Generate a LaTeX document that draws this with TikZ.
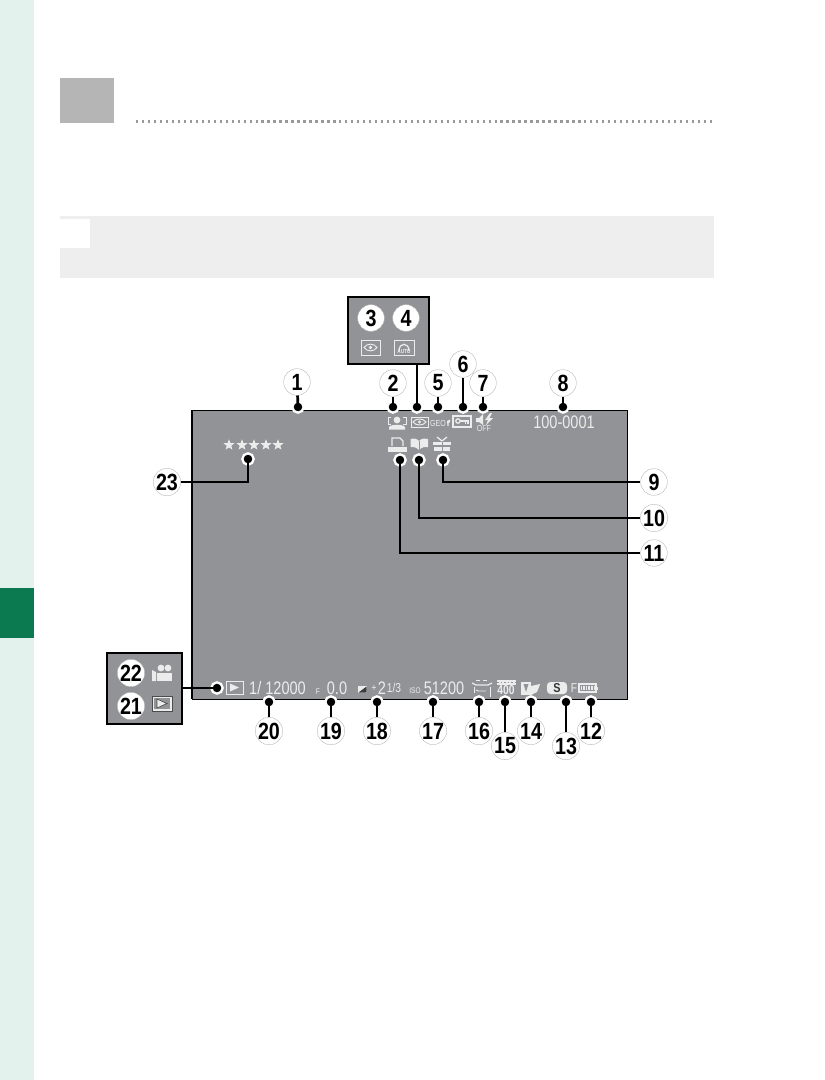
\documentclass[tikz,border=0pt]{standalone}
\usepackage{fontspec}
\newfontfamily\numfont[FakeStretch=0.84,UprightFont=* Bold]{Liberation Sans}
\newfontfamily\scrfont[FakeStretch=0.8]{Liberation Sans}
\usetikzlibrary{positioning,shapes.geometric}
\definecolor{sidebar}{HTML}{E3F2ED}
\definecolor{tabgreen}{HTML}{0B7A50}
\definecolor{headgray}{HTML}{B5B5B5}
\definecolor{notegray}{HTML}{EEEEEE}
\definecolor{lcdgray}{HTML}{929396}
\definecolor{lcdtext}{HTML}{ECECEC}
\tikzset{
  numc/.style={circle,draw=gray!60,line width=.3pt,fill=white,minimum size=.8cm,inner sep=0pt,font=\numfont\fontsize{20}{20}\selectfont},
  tip/.style={circle,draw=white,line width=2pt,fill=black,minimum size=.34cm,inner sep=0pt},
  lead/.style={line width=2.3pt,black},
  inset/.style={draw=black,line width=1.6pt,fill=lcdgray,inner sep=0pt},
  scr/.style={text=lcdtext,inner sep=0pt,font=\scrfont\fontsize{15.5}{15.5}\selectfont},
  scrs/.style={text=lcdtext,inner sep=0pt,font=\scrfont\fontsize{7}{7}\selectfont},
  ico/.style={draw=lcdtext,line width=.8pt},
  starn/.style={star,star points=5,star point ratio=2.3,fill=lcdtext,draw=none,minimum size=.34cm,inner sep=0pt}
}
\begin{document}
\begin{tikzpicture}[x=.03cm,y=-.03cm]
    \useasboundingbox (0,0) rectangle (825,1080);
    % page furniture
    \fill[sidebar] (0,0) rectangle (34,1080);
    \fill[tabgreen] (0,588) rectangle (34,638);
    \fill[headgray] (60,78) rectangle (114,123);
    \draw[black!40,line width=2pt,dash pattern=on 2pt off 3.1pt] (136,121.5) -- (715,121.5);
    \fill[notegray] (60,216) rectangle (714,278);
    \fill[white] (60,219) rectangle (90,248);
    % screen
    \filldraw[fill=lcdgray,draw=black,line width=.7pt] (192,410) rectangle (627,699);
    \draw[black,line width=1.5pt] (192,410) -- (192,699);
    % insets
    \node[inset,minimum width=2.43cm,minimum height=2.01cm] (box34) at (388.5,330.5) {};
    \node[inset,minimum width=2.25cm,minimum height=2.13cm] (box2122) at (144.5,688.5) {};
    % numbers
    \node[numc] (n1) at (297,382) {1};
    \node[numc] (n2) at (393,383) {2};
    \node[numc] (n3) at (371,318) {3};
    \node[numc] (n4) at (406,318) {4};
    \node[numc] (n5) at (438,383) {5};
    \node[numc] (n6) at (463,364) {6};
    \node[numc] (n7) at (483,383) {7};
    \node[numc] (n8) at (563,383) {8};
    \node[numc] (n9) at (654,482) {9};
    \node[numc] (n10) at (654,518) {10};
    \node[numc] (n11) at (654,553) {11};
    \node[numc] (n12) at (591,731) {12};
    \node[numc] (n13) at (566,746) {13};
    \node[numc] (n14) at (531,731) {14};
    \node[numc] (n15) at (505,746) {15};
    \node[numc] (n16) at (479,731) {16};
    \node[numc] (n17) at (433,731) {17};
    \node[numc] (n18) at (377,731) {18};
    \node[numc] (n19) at (331,731) {19};
    \node[numc] (n20) at (269,731) {20};
    \node[numc] (n21) at (131,706) {21};
    \node[numc] (n22) at (131,673) {22};
    \node[numc] (n23) at (167,482) {23};
    % tips
    \node[tip] (d1) at (298,407) {};
    \node[tip] (d2) at (393,407) {};
    \node[tip] (d34) at (417,407) {};
    \node[tip] (d5) at (438,407) {};
    \node[tip] (d6) at (463,407) {};
    \node[tip] (d7) at (483,407) {};
    \node[tip] (d8) at (563,407) {};
    \node[tip] (d9) at (443,460) {};
    \node[tip] (d10) at (419,460) {};
    \node[tip] (d11) at (400,460) {};
    \node[tip] (d12) at (591,702) {};
    \node[tip] (d13) at (566,702) {};
    \node[tip] (d14) at (531,702) {};
    \node[tip] (d15) at (505,702) {};
    \node[tip] (d16) at (479,702) {};
    \node[tip] (d17) at (433,702) {};
    \node[tip] (d18) at (377,702) {};
    \node[tip] (d19) at (331,702) {};
    \node[tip] (d20) at (269,702) {};
    \node[tip] (d2122) at (217,688) {};
    \node[tip] (d23) at (248,459) {};
    % leads
    \draw[lead] (n1) -- (d1.center);
    \draw[lead] (n2) -- (d2.center);
    \draw[lead] (d34.center |- box34.south) -- (d34.center);
    \draw[lead] (n5) -- (d5.center);
    \draw[lead] (n6) -- (d6.center);
    \draw[lead] (n7) -- (d7.center);
    \draw[lead] (n8) -- (d8.center);
    \draw[lead] (n9) -| (d9.center);
    \draw[lead] (n10) -| (d10.center);
    \draw[lead] (n11) -| (d11.center);
    \draw[lead] (n12) -- (d12.center);
    \draw[lead] (n13) -- (d13.center);
    \draw[lead] (n14) -- (d14.center);
    \draw[lead] (n15) -- (d15.center);
    \draw[lead] (n16) -- (d16.center);
    \draw[lead] (n17) -- (d17.center);
    \draw[lead] (n18) -- (d18.center);
    \draw[lead] (n19) -- (d19.center);
    \draw[lead] (n20) -- (d20.center);
    \draw[lead] (box2122.east |- d2122) -- (d2122.center);
    \draw[lead] (n23) -| (d23.center);
    % readouts
    \node[scr] (frameno) at (564,422) {100-0001};
    \node[scr] (shutter) at (277.5,688) {1/ 12000};
    \node[scr] (aperture) at (337,688) {0.0};
    \node[scrs] (fmark) at (318,691.5) {F};
    \node[scr,font=\scrfont\fontsize{9}{9}\selectfont] (evplus) at (374,688) {+};
    \node[scr] (evtwo) at (382,688) {2};
    \node[scr,font=\scrfont\fontsize{11}{11}\selectfont] (evthird) at (394,688) {1/3};
    \node[scrs] (isomark) at (415,691) {ISO};
    \node[scr] (isoval) at (444,688) {51200};
    \node[scr,font=\scrfont\fontsize{11}{11}\selectfont] (fsize) at (574,688) {F};
    \node[scrs,font=\scrfont\fontsize{7.5}{7.5}\selectfont] (geo) at (438,423.5) {GEO};
    \node[scrs,font=\scrfont\fontsize{7.5}{7.5}\selectfont] (spkoff) at (484,428.5) {OFF};
    \node[scrs,font=\scrfont\bfseries\fontsize{11}{11}\selectfont] (wb) at (506,690.5) {400};
    % stars
    \node[starn] (s1) at (229,445) {};
    \node[starn] (s2) at (242,445) {};
    \node[starn] (s3) at (254,445) {};
    \node[starn] (s4) at (266,445) {};
    \node[starn] (s5) at (278,445) {};
    % top icons
    \draw[ico] (391,417) -- (388,417) -- (388,424) -- (391,424);
    \draw[ico] (403,417) -- (406,417) -- (406,424) -- (403,424);
    \fill[lcdtext] (397,420) circle (3.4);
    \fill[lcdtext] (389,429.5) -- (389,427) .. controls (391,424) and (403,424) .. (405,427) -- (405,429.5) -- cycle;
    \draw[ico] (411,417) rectangle (428,427);
    \draw[ico] (413,422) .. controls (416,418) and (423,418) .. (426,422) .. controls (423,426) and (416,426) .. (413,422) -- cycle;
    \fill[lcdtext] (419.5,422) circle (1.6);
    \fill[lcdtext] (447,421) -- (450,419.5) -- (450,422) -- (448.5,423) -- (448.5,426) -- (447.5,426) -- cycle;
    \draw[ico,line width=1.1pt] (453,416) rectangle (471,427);
    \draw[ico,line width=1.1pt] (458,421) circle (2.2);
    \draw[ico,line width=1.1pt] (460,421) -- (468,421) -- (468,424);
    \draw[ico] (465,421) -- (465,423.5);
    \fill[lcdtext] (476,418) -- (479,418) -- (483,414) -- (483,425) -- (479,422) -- (476,422) -- cycle;
    \fill[lcdtext] (490,413) -- (485,420) -- (488,420) -- (486,425) -- (493,418) -- (489.5,418) -- (492,413) -- cycle;
    % printer, book, gift
    \draw[ico,line width=1.1pt] (392,446) -- (392,438) -- (400,438) -- (403,441) -- (403,446);
    \fill[lcdtext] (388,447) rectangle (407,452);
    \fill[lcdtext] (419,441) .. controls (416,438) and (413,438) .. (410.5,439) -- (410.5,447) .. controls (413,446.5) and (416,447) .. (419,450) .. controls (422,447) and (425,446.5) .. (428,447) -- (428,439) .. controls (425,438) and (422,438) .. (419,441) -- cycle;
    \draw[lcdgray,line width=.5pt] (419,441) -- (419,450);
    \fill[lcdtext] (433,442) rectangle (451,445);
    \fill[lcdtext] (434,447) rectangle (450,451);
    \draw[lcdgray,line width=.7pt] (442,442) -- (442,451);
    \draw[ico,line width=1.1pt] (442,441) -- (437,437) (442,441) -- (447,437);
    % inset 3 and 4
    \draw[ico] (361,340) rectangle (380,355);
    \draw[ico] (364,347.5) .. controls (367,343) and (374,343) .. (377,347.5) .. controls (374,352) and (367,352) .. (364,347.5) -- cycle;
    \fill[lcdtext] (370.5,347.5) circle (1.9);
    \draw[ico] (394,340) rectangle (414,355);
    \draw[ico,line width=1.1pt] (399,351) .. controls (399,342) and (409,342) .. (409,351);
    \node[scrs,font=\scrfont\bfseries\fontsize{5}{5}\selectfont] (autotag) at (404,351) {AUTO};
    % inset 21 and 22
    \fill[lcdtext] (152,670) -- (156,672) -- (156,681) -- (152,681) -- cycle;
    \fill[lcdtext] (157,673) rectangle (172,681);
    \fill[lcdtext] (161,668) circle (3.4);
    \fill[lcdtext] (168,668) circle (3.4);
    \draw[black!70,line width=.6pt,fill=lcdtext] (152,696) rectangle (172,711);
    \fill[lcdgray] (154,698) rectangle (170,709);
    \draw[black!70,line width=.6pt,fill=lcdtext] (157,699) -- (167,703.5) -- (157,708) -- cycle;
    % bottom icons
    \draw[ico] (226,681) rectangle (243,694);
    \fill[lcdtext] (230,683.5) -- (239,687.5) -- (230,691.5) -- cycle;
    \fill[lcdtext] (358,686) rectangle (367,693);
    \fill[lcdgray!40!black] (358.5,692.5) -- (366.5,686.5) -- (366.5,692.5) -- cycle;
    \draw[ico,line width=1pt] (472,683) -- (476,685) -- (488,685) -- (492,683);
    \draw[ico] (476,690) -- (478,691) -- (486,691);
    \draw[ico,dashed] (476,680) -- (488,680);
    \draw[ico] (474,687) -- (474,693) (490,687) -- (490,697);
    \fill[lcdtext] (497,680) rectangle (516,685);
    \draw[lcdgray,line width=.6pt,dash pattern=on 1.5pt off 1.5pt] (497,682.5) -- (516,682.5);
    \fill[lcdtext] (521,682) rectangle (531,695);
    \fill[lcdgray] (523.5,684) -- (526,692) -- (528.5,684) -- cycle;
    \fill[lcdtext] (531,686) -- (540,684) -- (539,687) -- (537,692) -- (531,695) -- cycle;
    \fill[lcdtext,rounded corners=3pt] (547,682) rectangle (567,694);
    \node[scrs,text=lcdgray!35!black,font=\numfont\fontsize{11}{11}\selectfont] (qualtext) at (557,688) {S};
    \draw[ico,line width=1pt] (579,684) rectangle (596,692);
    \fill[lcdtext] (597,686.5) rectangle (598,689.5);
    \draw[lcdtext,line width=3pt,dash pattern=on .7pt off .7pt] (581,688) -- (595,688);
\end{tikzpicture}
\end{document}
